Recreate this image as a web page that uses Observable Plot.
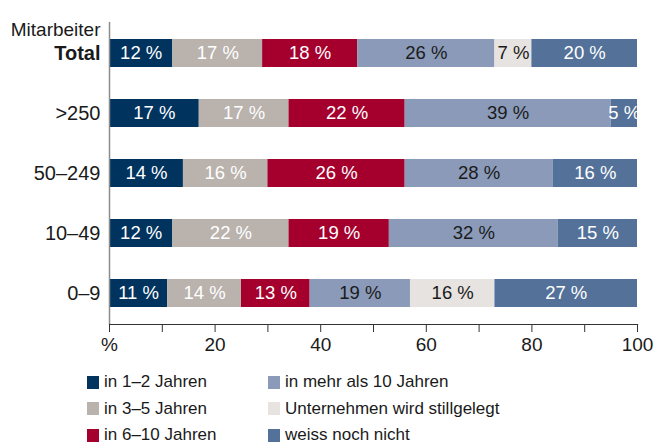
<!DOCTYPE html>
<html>
<head>
<meta charset="utf-8">
<script src="https://cdn.jsdelivr.net/npm/d3@7"></script>
<script src="https://cdn.jsdelivr.net/npm/@observablehq/plot@0.6"></script>
<style>
  html, body { margin: 0; padding: 0; background: #fff; }
  body { width: 657px; height: 444px; overflow: hidden; font-family: "Liberation Sans", Arial, Helvetica, sans-serif; color: #1a1a1a; }
  #legend { position: relative; height: 82px; font-size: 17px; }
  .item { position: absolute; display: flex; align-items: center; height: 20px; white-space: nowrap; }
  .sw { width: 12px; height: 13px; margin-right: 5px; }
</style>
</head>
<body>
<div id="chart"></div>
<div id="legend"></div>
<script>
const groups = ["Total", ">250", "50–249", "10–49", "0–9"];
const categories = ["in 1–2 Jahren", "in 3–5 Jahren", "in 6–10 Jahren", "in mehr als 10 Jahren", "Unternehmen wird stillgelegt", "weiss noch nicht"];
const colors = ["#00335e", "#b9b2ad", "#a5002d", "#8a9ab8", "#e6e3e0", "#537199"];
const darkText = ["in mehr als 10 Jahren", "Unternehmen wird stillgelegt"];
const totalValues = [12, 17, 18, 26, 7, 20];
const over250Values = [17, 17, 22, 39, 0, 5];
const from50Values = [14, 16, 26, 28, 0, 16];
const from10Values = [12, 22, 19, 32, 0, 15];
const from0Values = [11, 14, 13, 19, 16, 27];
const xTicks = [0, 10, 20, 30, 40, 50, 60, 70, 80, 90, 100];
const xTickLabels = {0: "%", 20: "20", 40: "40", 60: "60", 80: "80", 100: "100"};

const seriesByGroup = [totalValues, over250Values, from50Values, from10Values, from0Values];
const rows = [];
groups.forEach((g, gi) => categories.forEach((c, ci) => rows.push({group: g, category: c, value: seriesByGroup[gi][ci]})));

const font = '"Liberation Sans", Arial, Helvetica, sans-serif';
const stackOpts = (extra) => Plot.stackX({x: "value", y: "group", z: "category", ...extra});

const plot = Plot.plot({
  width: 657,
  height: 362,
  marginLeft: 109,
  marginRight: 20,
  marginTop: 22,
  marginBottom: 38,
  style: {fontFamily: font, background: "white", color: "#1a1a1a"},
  x: {domain: [0, 100]},
  y: {domain: groups, paddingInner: 0.54, paddingOuter: 0.25},
  color: {domain: categories, range: colors},
  marks: [
    Plot.barX(rows, stackOpts({fill: "category"})),
    Plot.text(rows, stackOpts({text: d => d.value && !darkText.includes(d.category) ? d.value + " %" : null, fill: "white", fontSize: 18.5})),
    Plot.text(rows, stackOpts({text: d => d.value && darkText.includes(d.category) ? d.value + " %" : null, fill: "#1a1a1a", fontSize: 18.5})),
    Plot.ruleX([0], {stroke: "#8c8c8c", strokeWidth: 1.5}),
    Plot.frame({anchor: "bottom", stroke: "#333", strokeWidth: 1.2}),
    Plot.axisX({ticks: xTicks, tickSize: 8, tickPadding: 5, fontSize: 19, label: null, stroke: "#333",
      tickFormat: d => xTickLabels[d] ?? ""}),
    Plot.axisY({tickSize: 0, tickPadding: 9, fontSize: 20, label: null}),
    Plot.text(["Mitarbeiter"], {frameAnchor: "top-left", text: d => d, textAnchor: "end", dx: -9, fontSize: 19, fill: "#1a1a1a"})
  ]
});
document.getElementById("chart").appendChild(plot);
d3.select(plot).selectAll("text").filter(function() { return this.textContent === "Total"; }).attr("font-weight", "bold");

const legend = document.getElementById("legend");
const legendPos = [[87, 10], [87, 36.5], [87, 63], [268, 10], [268, 36.5], [268, 63]];
categories.forEach((c, i) => {
  const el = document.createElement("div");
  el.className = "item";
  el.style.left = legendPos[i][0] + "px";
  el.style.top = legendPos[i][1] + "px";
  el.innerHTML = `<span class="sw" style="background:${colors[i]}"></span><span>${c}</span>`;
  legend.appendChild(el);
});
</script>
</body>
</html>
